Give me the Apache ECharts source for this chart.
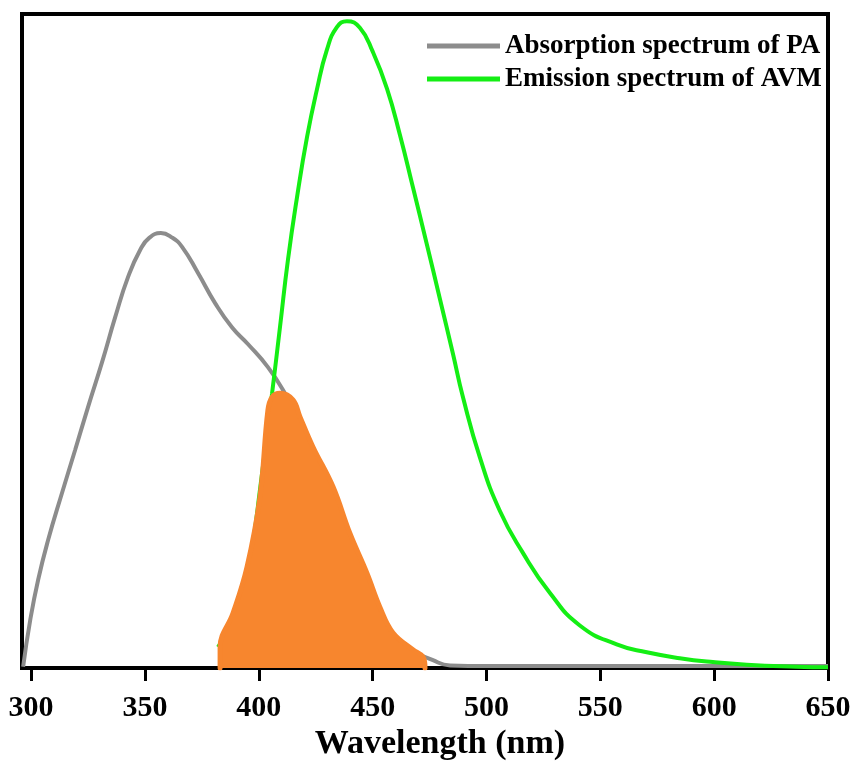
<!DOCTYPE html>
<html>
<head>
<meta charset="utf-8">
<script src="https://cdn.jsdelivr.net/npm/echarts@6/dist/echarts.min.js"></script>
<style>
  html, body { margin: 0; padding: 0; background: #fff; }
  #chart { width: 855px; height: 764px; }
</style>
</head>
<body>
<div id="chart"></div>
<script>
// Wavelength axis ticks (nm)
const tickValues = [300, 350, 400, 450, 500, 550, 600, 650];

// Absorption spectrum of PA (normalised intensity)
const absWavelength = [296.5, 299.6, 303.1, 307.5, 313.6, 319.3, 325.0, 331.2, 336.9, 342.6,
  348.0, 352.0, 357.0, 362.0, 366.3, 373.3, 380.8, 388.2, 395.3, 404.0, 411.5,
  418.1, 426.9, 437.0, 447.5, 456.3, 465.1, 476.5, 484.0, 500, 550, 600, 650];
const absIntensity = [0.002, 0.073, 0.135, 0.196, 0.268, 0.333, 0.399, 0.468, 0.536, 0.598,
  0.640, 0.658, 0.665, 0.658, 0.644, 0.604, 0.558, 0.521, 0.495, 0.460, 0.420,
  0.376, 0.312, 0.210, 0.124, 0.063, 0.032, 0.012, 0.004, 0.003, 0.003, 0.003, 0.003];

// Emission spectrum of AVM (normalised intensity)
const emWavelength = [382.1, 387.3, 393.1, 397.6, 400.5, 405.8, 409.3, 412.8, 416.8, 421.2,
  425.5, 429.9, 434.3, 438.7, 444.4, 450.1, 456.3, 462.0, 467.7, 473.8,
  479.5, 485.3, 489.6, 497.1, 505.9, 516.0, 527.8, 541.0, 557.2, 570.4,
  584.9, 599.4, 614.3, 636.3, 650];
const emIntensity = [0.032, 0.063, 0.108, 0.196, 0.272, 0.419, 0.521, 0.624, 0.720, 0.812,
  0.884, 0.945, 0.980, 0.989, 0.979, 0.942, 0.886, 0.815, 0.735, 0.648,
  0.565, 0.480, 0.415, 0.322, 0.240, 0.176, 0.115, 0.065, 0.036, 0.024,
  0.015, 0.009, 0.005, 0.002, 0.001];

// Spectral overlap region (shaded)
const overlapWavelength = [383.0, 383.0, 388.7, 394.8, 400.5, 404.0, 405.8, 409.3, 415.0, 418.1,
  423.8, 432.6, 440.0, 447.5, 453.2, 458.9, 467.7, 472.1, 473.0];
const overlapIntensity = [0, 0.032, 0.084, 0.154, 0.261, 0.394, 0.414, 0.420, 0.410, 0.384,
  0.338, 0.277, 0.206, 0.145, 0.093, 0.054, 0.028, 0.017, 0];

const zip = (xs, ys) => xs.map((x, i) => [x, ys[i]]);
const serif = "'Liberation Serif', 'Times New Roman', 'DejaVu Serif', serif";

const chart = echarts.init(document.getElementById('chart'), null, { renderer: 'canvas' });
chart.setOption({
  backgroundColor: '#ffffff',
  animation: false,
  grid: {
    left: 22, right: 27, top: 14, bottom: 96,
    show: true, borderColor: '#000', borderWidth: 4, backgroundColor: '#fff'
  },
  legend: {
    orient: 'vertical',
    left: 422, top: 26,
    icon: 'rect',
    itemWidth: 73, itemHeight: 5, itemGap: 3,
    data: ['Absorption spectrum of PA', 'Emission spectrum of AVM'],
    textStyle: { fontFamily: serif, fontWeight: 'bold', fontSize: 27, color: '#000', lineHeight: 30 }
  },
  xAxis: {
    type: 'value',
    min: 296, max: 650,
    axisLine: { show: true, onZero: false, lineStyle: { color: '#000', width: 4 } },
    axisTick: { show: true, customValues: tickValues, length: 13, lineStyle: { color: '#000', width: 3 } },
    axisLabel: {
      customValues: tickValues, margin: 25,
      fontFamily: serif, fontWeight: 'bold', fontSize: 30, color: '#000'
    },
    splitLine: { show: false }
  },
  yAxis: {
    type: 'value', min: 0, max: 1, show: false, splitLine: { show: false }
  },
  graphic: [{
    type: 'text',
    x: 440, y: 744,
    style: {
      text: 'Wavelength (nm)',
      font: 'bold 34px ' + serif,
      fill: '#000',
      textAlign: 'center',
      textVerticalAlign: 'middle'
    }
  }],
  series: [
    {
      name: 'Absorption spectrum of PA',
      type: 'line',
      data: zip(absWavelength, absIntensity),
      smooth: 0.5,
      showSymbol: false,
      color: '#8c8c8c',
      lineStyle: { color: '#8c8c8c', width: 4 },
      z: 2
    },
    {
      name: 'Emission spectrum of AVM',
      type: 'line',
      data: zip(emWavelength, emIntensity),
      smooth: 0.5,
      showSymbol: false,
      color: '#14ee14',
      lineStyle: { color: '#14ee14', width: 4 },
      z: 3
    },
    {
      name: 'overlap',
      type: 'line',
      data: zip(overlapWavelength, overlapIntensity),
      smooth: 0.4,
      showSymbol: false,
      color: '#f7862e',
      lineStyle: { color: '#f7862e', width: 5, join: 'round', cap: 'round' },
      areaStyle: { color: '#f7862e', opacity: 1 },
      z: 4
    }
  ]
});
</script>
</body>
</html>
